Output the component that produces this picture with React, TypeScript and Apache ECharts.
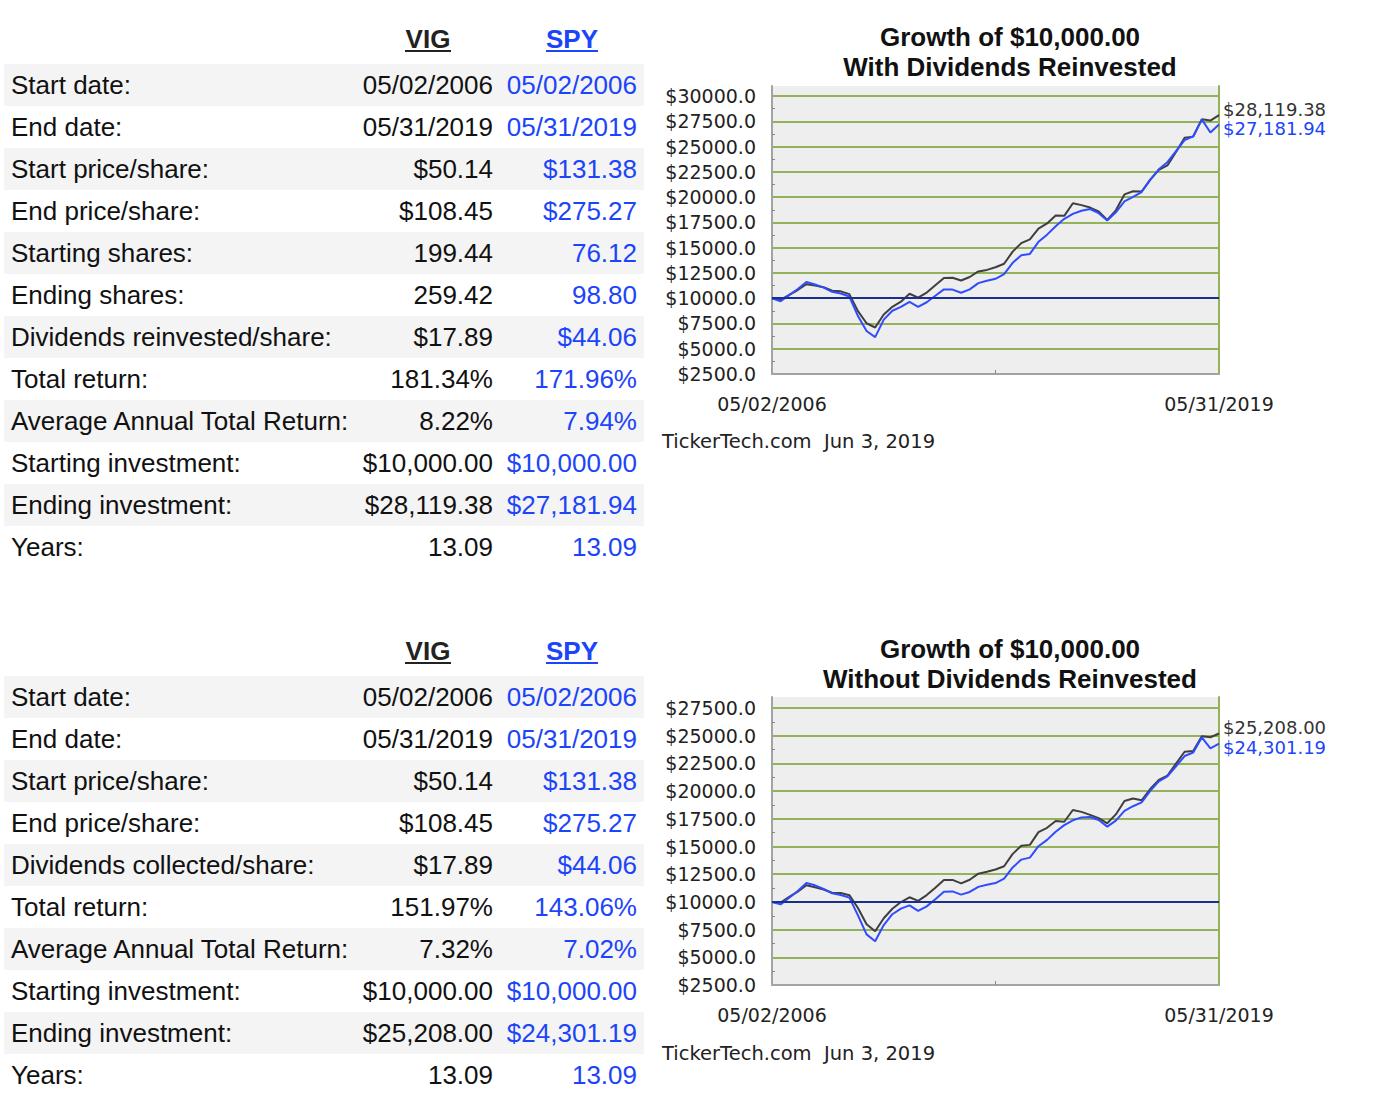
import React, { useEffect, useRef } from "react";
import * as echarts from "echarts";

// ---------- DATA ----------
const periods = [
  "05/02/2006", "Q3 2006", "Q4 2006",
  "Q1 2007", "Q2 2007", "Q3 2007", "Q4 2007",
  "Q1 2008", "Q2 2008", "Q3 2008", "Q4 2008",
  "Q1 2009", "Q2 2009", "Q3 2009", "Q4 2009",
  "Q1 2010", "Q2 2010", "Q3 2010", "Q4 2010",
  "Q1 2011", "Q2 2011", "Q3 2011", "Q4 2011",
  "Q1 2012", "Q2 2012", "Q3 2012", "Q4 2012",
  "Q1 2013", "Q2 2013", "Q3 2013", "Q4 2013",
  "Q1 2014", "Q2 2014", "Q3 2014", "Q4 2014",
  "Q1 2015", "Q2 2015", "Q3 2015", "Q4 2015",
  "Q1 2016", "Q2 2016", "Q3 2016", "Q4 2016",
  "Q1 2017", "Q2 2017", "Q3 2017", "Q4 2017",
  "Q1 2018", "Q2 2018", "Q3 2018", "Q4 2018",
  "Q1 2019", "05/31/2019",
];
const xTickLabels = ["05/02/2006", "05/31/2019"];

const withDivVIG = [
  10000, 9830, 10320, 10810, 11390, 11250, 11090, 10750, 10680, 10400,
  8720, 7520, 7100, 8390, 9150, 9660, 10440, 10060, 10560, 11280,
  12000, 12030, 11750, 12100, 12650, 12800, 13060, 13410, 14610, 15450,
  15820, 16880, 17400, 18190, 18150, 19400, 19210, 18970, 18590, 17750,
  18700, 20270, 20580, 20560, 21730, 22700, 23140, 24470, 25880, 25990,
  27700, 27580, 28119.38,
];
const withDivSPY = [
  10000, 9700, 10310, 10910, 11600, 11360, 11050, 10630, 10460, 10170,
  8230, 6750, 6150, 7880, 8760, 9140, 9630, 9150, 9600, 10240,
  10870, 10850, 10540, 10880, 11490, 11730, 11920, 12380, 13500, 14250,
  14380, 15580, 16290, 17120, 17860, 18340, 18660, 18830, 18410, 17700,
  18500, 19580, 20030, 20510, 21710, 22760, 23460, 24560, 25650, 26030,
  27700, 26400, 27181.94,
];
const noDivVIG = [
  10000, 9950, 10450, 10930, 11500, 11330, 11120, 10830, 10800, 10610,
  9450, 7980, 7350, 8530, 9380, 9990, 10420, 10100, 10620, 11290,
  11980, 11990, 11680, 12000, 12550, 12720, 12930, 13220, 14340, 15080,
  15150, 16300, 16690, 17310, 17240, 18300, 18130, 17860, 17570, 17100,
  17900, 19110, 19340, 19180, 20190, 21010, 21400, 22480, 23560, 23630,
  24950, 24870, 25208.0,
];
const noDivSPY = [
  10000, 9780, 10370, 10980, 11700, 11500, 11170, 10780, 10630, 10390,
  8780, 7070, 6450, 7910, 8890, 9400, 9690, 9190, 9600, 10240,
  10920, 10950, 10660, 10900, 11360, 11550, 11700, 12100, 13110, 13820,
  14000, 15030, 15600, 16340, 16930, 17370, 17630, 17670, 17390, 16800,
  17340, 18220, 18640, 18980, 20030, 20880, 21330, 22250, 23170, 23490,
  24850, 23860, 24301.19,
];
const baseline = 10000;

const topLabels = [
  "Start date:", "End date:", "Start price/share:", "End price/share:",
  "Starting shares:", "Ending shares:", "Dividends reinvested/share:",
  "Total return:", "Average Annual Total Return:", "Starting investment:",
  "Ending investment:", "Years:",
];
const topVIG = [
  "05/02/2006", "05/31/2019", "$50.14", "$108.45", "199.44", "259.42",
  "$17.89", "181.34%", "8.22%", "$10,000.00", "$28,119.38", "13.09",
];
const topSPY = [
  "05/02/2006", "05/31/2019", "$131.38", "$275.27", "76.12", "98.80",
  "$44.06", "171.96%", "7.94%", "$10,000.00", "$27,181.94", "13.09",
];
const bottomLabels = [
  "Start date:", "End date:", "Start price/share:", "End price/share:",
  "Dividends collected/share:", "Total return:", "Average Annual Total Return:",
  "Starting investment:", "Ending investment:", "Years:",
];
const bottomVIG = [
  "05/02/2006", "05/31/2019", "$50.14", "$108.45", "$17.89", "151.97%",
  "7.32%", "$10,000.00", "$25,208.00", "13.09",
];
const bottomSPY = [
  "05/02/2006", "05/31/2019", "$131.38", "$275.27", "$44.06", "143.06%",
  "7.02%", "$10,000.00", "$24,301.19", "13.09",
];
const tickers = ["VIG", "SPY"];
const titleLine1 = "Growth of $10,000.00";
const titles2 = ["With Dividends Reinvested", "Without Dividends Reinvested"];
const credit = "TickerTech.com  Jun 3, 2019";

// ---------- STYLE ----------
const BLUE = "#1c44f8";
const DARK = "#111111";
const LINE_DARK = "#3f3f3f";
const LINE_BLUE = "#2f4cff";
const GRID_GREEN = "#92b35c";
const NAVY = "#1a2e8e";
const TABLE_FONT = "'Liberation Sans', Arial, Helvetica, sans-serif";
const AXIS_FONT = "'DejaVu Sans', sans-serif";

function buildTable(
  top: number,
  labels: string[],
  vig: string[],
  spy: string[]
): any[] {
  const els: any[] = [];
  const headerY = top;
  const rowTop = top + 25;
  const rowH = 42;
  els.push({
    type: "text", x: 428, y: headerY,
    style: { text: tickers[0], fill: "#222", font: `bold 26px ${TABLE_FONT}`, align: "center", verticalAlign: "middle" },
  });
  els.push({ type: "line", shape: { x1: 405, y1: headerY + 12, x2: 451, y2: headerY + 12 }, style: { stroke: "#222", lineWidth: 2 } });
  els.push({
    type: "text", x: 572, y: headerY,
    style: { text: tickers[1], fill: BLUE, font: `bold 26px ${TABLE_FONT}`, align: "center", verticalAlign: "middle" },
  });
  els.push({ type: "line", shape: { x1: 546, y1: headerY + 12, x2: 598, y2: headerY + 12 }, style: { stroke: BLUE, lineWidth: 2 } });
  labels.forEach((lab, i) => {
    const y0 = rowTop + i * rowH;
    if (i % 2 === 0) {
      els.push({ type: "rect", shape: { x: 4, y: y0, width: 640, height: rowH }, style: { fill: "#f4f4f4" }, z: -1 });
    }
    const cy = y0 + rowH / 2;
    els.push({ type: "text", x: 11, y: cy, style: { text: lab, fill: DARK, font: `26px ${TABLE_FONT}`, align: "left", verticalAlign: "middle" } });
    els.push({ type: "text", x: 493, y: cy, style: { text: vig[i], fill: DARK, font: `26px ${TABLE_FONT}`, align: "right", verticalAlign: "middle" } });
    els.push({ type: "text", x: 637, y: cy, style: { text: spy[i], fill: BLUE, font: `26px ${TABLE_FONT}`, align: "right", verticalAlign: "middle" } });
  });
  return els;
}

function chartTexts(titleY: number, sub: string, creditY: number): any[] {
  return [
    { type: "text", x: 1010, y: titleY, style: { text: titleLine1, fill: DARK, font: `bold 26px ${TABLE_FONT}`, align: "center", verticalAlign: "middle" } },
    { type: "text", x: 1010, y: titleY + 30, style: { text: sub, fill: DARK, font: `bold 26px ${TABLE_FONT}`, align: "center", verticalAlign: "middle" } },
    { type: "text", x: 662, y: creditY, style: { text: credit, fill: "#222", font: `19.5px ${AXIS_FONT}`, align: "left", verticalAlign: "middle" } },
  ];
}

const fmtMoney = (v: number) =>
  "$" + v.toLocaleString("en-US", { minimumFractionDigits: 2, maximumFractionDigits: 2 });

function axesFor(gridIndex: number, max: number) {
  const lastIdx = periods.length - 1;
  const midIdx = Math.round(lastIdx / 2);
  const xAxis = {
    type: "category",
    gridIndex,
    data: periods,
    boundaryGap: false,
    axisLine: { show: true, lineStyle: { color: "#a3a3a3", width: 2 } },
    axisTick: {
      show: true, inside: true, length: 4,
      interval: (i: number) => i === midIdx,
      lineStyle: { color: "#888", width: 1 },
    },
    axisLabel: {
      interval: (i: number) => i === 0 || i === lastIdx,
      formatter: (_v: string, i: number) => (i === 0 ? xTickLabels[0] : xTickLabels[1]),
      margin: 20,
      fontFamily: AXIS_FONT,
      fontSize: 19,
      color: "#222",
    },
    splitLine: { show: false },
  };
  const yLeft = {
    type: "value",
    gridIndex,
    min: 2500,
    max,
    interval: 2500,
    axisLine: { show: true, lineStyle: { color: "#a3a3a3", width: 2 } },
    axisTick: { show: false, inside: true },
    minorTick: { show: true, splitNumber: 2, length: 3, lineStyle: { color: "#888", width: 1 } },
    axisLabel: {
      formatter: (v: number) => "$" + v.toFixed(1),
      showMaxLabel: false,
      margin: 16,
      fontFamily: AXIS_FONT,
      fontSize: 19,
      color: "#222",
    },
    splitLine: { show: true, showMinLine: false, showMaxLine: false, lineStyle: { color: GRID_GREEN, width: 2 } },
  };
  const yRight = {
    type: "value",
    gridIndex,
    position: "right",
    min: 2500,
    max,
    interval: 2500,
    axisLine: { show: true, lineStyle: { color: GRID_GREEN, width: 2 } },
    axisTick: { show: false },
    axisLabel: { show: false },
    splitLine: { show: false },
  };
  return { xAxis, yAxes: [yLeft, yRight] };
}

function seriesFor(gridIndex: number, vig: number[], spy: number[]) {
  const yBase = gridIndex * 2;
  return [
    {
      type: "line",
      name: tickers[0],
      xAxisIndex: gridIndex,
      yAxisIndex: yBase,
      data: vig,
      symbol: "none",
      z: 3,
      lineStyle: { color: LINE_DARK, width: 2 },
      endLabel: {
        show: true,
        formatter: (p: any) => fmtMoney(p.value),
        color: "#333",
        fontFamily: AXIS_FONT,
        fontSize: 18,
        lineHeight: 16,
        distance: 4,
        offset: [0, -6],
      },
      markLine: {
        silent: true,
        symbol: "none",
        label: { show: false },
        lineStyle: { color: NAVY, width: 2, type: "solid" },
        data: [{ yAxis: baseline }],
      },
    },
    {
      type: "line",
      name: tickers[1],
      xAxisIndex: gridIndex,
      yAxisIndex: yBase + 1,
      data: spy,
      symbol: "none",
      z: 4,
      lineStyle: { color: LINE_BLUE, width: 2 },
      endLabel: {
        show: true,
        formatter: (p: any) => fmtMoney(p.value),
        color: BLUE,
        fontFamily: AXIS_FONT,
        fontSize: 18,
        lineHeight: 16,
        distance: 4,
        offset: [0, 4],
      },
    },
  ];
}

export default function App() {
  const ref = useRef<HTMLDivElement>(null);
  useEffect(() => {
    if (!ref.current) return;
    const chart = echarts.init(ref.current, null, { renderer: "svg" });
    const a0 = axesFor(0, 31000);
    const a1 = axesFor(1, 28500);
    const option: any = {
      animation: false,
      backgroundColor: "#ffffff",
      grid: [
        { left: 772, top: 86, width: 447, height: 288, show: true, backgroundColor: "#eeeeee", borderWidth: 0 },
        { left: 772, top: 697, width: 447, height: 288, show: true, backgroundColor: "#eeeeee", borderWidth: 0 },
      ],
      xAxis: [a0.xAxis, a1.xAxis],
      yAxis: [...a0.yAxes, ...a1.yAxes],
      series: [...seriesFor(0, withDivVIG, withDivSPY), ...seriesFor(1, noDivVIG, noDivSPY)],
      graphic: [
        ...buildTable(39, topLabels, topVIG, topSPY),
        ...buildTable(651, bottomLabels, bottomVIG, bottomSPY),
        ...chartTexts(37, titles2[0], 441),
        ...chartTexts(649, titles2[1], 1053),
      ],
    };
    chart.setOption(option);
    return () => chart.dispose();
  }, []);
  return (
    <div
      ref={ref}
      style={{ position: "absolute", left: 0, top: 0, width: 1392, height: 1094, background: "#fff" }}
    />
  );
}
